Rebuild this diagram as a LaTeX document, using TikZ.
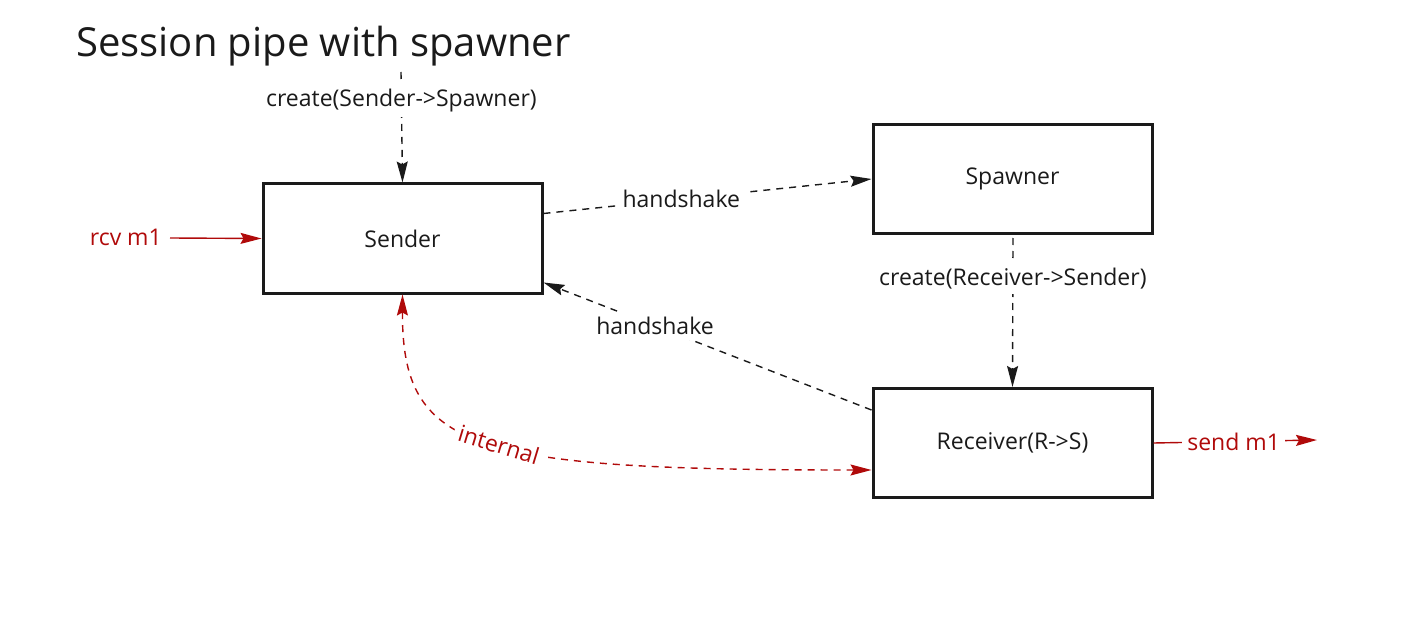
\documentclass[tikz,border=0pt]{standalone}
\usepackage{fontspec}
\setmainfont{Open Sans}
\usetikzlibrary{arrows.meta,calc}
\definecolor{dred}{HTML}{B00A0A}
\definecolor{ink}{HTML}{1A1A1A}
\tikzset{
  box/.style={draw=ink, line width=3pt, minimum width=279pt, minimum height=109pt, inner sep=0pt, font=\fontsize{23}{27}\selectfont, text=ink},
  lbl/.style={font=\fontsize{23}{27}\selectfont, text=ink, fill=white, inner sep=5pt},
  rlbl/.style={font=\fontsize{23}{27}\selectfont, text=dred, fill=white, inner sep=5pt},
  tip/.style={-{Stealth[length=21pt,width=11pt,inset=3pt]}},
  dline/.style={tip, draw=ink, line width=1.4pt, dash pattern=on 7pt off 6pt},
  rline/.style={tip, draw=dred, line width=1.4pt},
}
\begin{document}
\begin{tikzpicture}[x=1pt,y=-1pt]
\useasboundingbox (0,0) rectangle (1421,631);
\node[anchor=west, font=\fontsize{40}{48}\selectfont, text=ink, inner sep=0pt] (title) at (76,46) {Session pipe with spawner};
\node[box] (sender) at (402.5,238.5) {Sender};
\node[box] (spawner) at (1012.5,179) {Spawner};
\node[box] (recv) at (1012.5,443) {Receiver(R->S)};
\coordinate (topstart) at (401,72);
\coordinate (spbot) at (1013,238);
\coordinate (sendend) at (1317,440);
\node[font=\fontsize{23}{27}\selectfont, text=dred, anchor=east, inner sep=0pt] (rcv) at (162,237) {rcv m1};

\draw[dline] (topstart) -- node[lbl, pos=0.26] {create(Sender->Spawner)} (sender.north);
\draw[dline] ($(sender.east)+(0,-25)$) -- node[lbl, pos=0.42] {handshake} (spawner.west);
\draw[dline] (spbot) -- node[lbl, pos=0.27] {create(Receiver->Sender)} (recv.north);
\draw[dline] ($(recv.west)+(0,-33)$) -- node[lbl, pos=0.66] {handshake} ($(sender.south east)+(0,-12)$);
\draw[rline] ($(rcv.east)+(8,1)$) -- (sender.west);
\draw[rline] (recv.east) -- node[rlbl, pos=0.49] {send m1} (sendend);
\draw[draw=dred, line width=1.4pt, dash pattern=on 7pt off 6pt, {Stealth[length=21pt,width=11pt,inset=3pt]}-{Stealth[length=21pt,width=11pt,inset=3pt]}]
  (sender.south) .. controls (402,450) and (470,470) .. node[rlbl, pos=0.53, sloped] {internal} ($(recv.west)+(0,27)$);
\end{tikzpicture}
\end{document}
